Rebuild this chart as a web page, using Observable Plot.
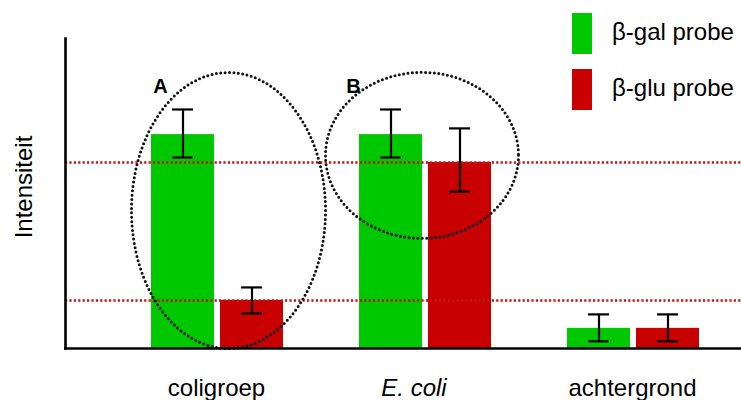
<!DOCTYPE html>
<html><head><meta charset="utf-8">
<script src="https://cdn.jsdelivr.net/npm/d3@7"></script>
<script src="https://cdn.jsdelivr.net/npm/@observablehq/plot@0.6"></script>
<style>
body{margin:0;background:#fff;}
#wrap{position:relative;width:741px;height:400px;font-family:"Liberation Sans",Arial,sans-serif;}
.sw{position:absolute;left:572px;width:20px;height:41px;}
.lt{position:absolute;left:612px;font-size:24px;line-height:24px;color:#000;white-space:nowrap;}
</style></head><body><div id="wrap"></div>
<script>
const categories = ["coligroep", "E. coli", "achtergrond"];
const probes = ["β-gal probe", "β-glu probe"];
const galValues = [69, 69, 6.5];
const gluValues = [15.5, 60, 6.5];
const galErrLow = [61.6, 61.6, 2.3];
const galErrHigh = [77.1, 77.1, 11.0];
const gluErrLow = [11.3, 50.6, 2.3];
const gluErrHigh = [19.7, 71.0, 11.0];
const refLines = [60, 15.5];
const colors = ["#00c800", "#c80000"];

const gal = categories.map((c, i) => ({category: c, probe: probes[0], value: galValues[i], lo: galErrLow[i], hi: galErrHigh[i]}));
const glu = categories.map((c, i) => ({category: c, probe: probes[1], value: gluValues[i], lo: gluErrLow[i], hi: gluErrHigh[i]}));

function ellipseSymbol(rx, ry) {
  const k = 0.5523;
  return {
    draw(ctx) {
      ctx.moveTo(rx, 0);
      ctx.bezierCurveTo(rx, ry * k, rx * k, ry, 0, ry);
      ctx.bezierCurveTo(-rx * k, ry, -rx, ry * k, -rx, 0);
      ctx.bezierCurveTo(-rx, -ry * k, -rx * k, -ry, 0, -ry);
      ctx.bezierCurveTo(rx * k, -ry, rx, -ry * k, rx, 0);
      ctx.closePath();
    }
  };
}

const ellipseStyle = {stroke: "#111", fill: "none", strokeWidth: 3, strokeDasharray: "0 4.4", strokeLinecap: "round"};
const errStyle = {stroke: "#000", strokeWidth: 2.2};

const chart = Plot.plot({
  width: 741,
  height: 400,
  marginLeft: 65,
  marginRight: 0,
  marginTop: 38,
  marginBottom: 52,
  style: {fontFamily: "'Liberation Sans', Arial, sans-serif", background: "#fff", overflow: "visible"},
  x: {domain: categories, paddingInner: 0.3669, paddingOuter: 0.3045, align: 0.669, axis: null, label: null},
  y: {domain: [0, 100], axis: null, label: null},
  color: {domain: probes, range: colors},
  marks: [
    Plot.barY(gal, {x: "category", y: "value", fill: "probe", insetRight: 69}),
    Plot.barY(glu, {x: "category", y: "value", fill: "probe", insetLeft: 69}),
    Plot.ruleY(refLines, {y: d => d, stroke: "#c41414", strokeWidth: 2.6, strokeDasharray: "2.2 2.2"}),
    Plot.ruleX(gal, {x: "category", y1: "lo", y2: "hi", dx: -34.5, ...errStyle}),
    Plot.ruleX(glu, {x: "category", y1: "lo", y2: "hi", dx: 34.5, ...errStyle}),
    Plot.tickY(gal, {x: "category", y: "lo", insetLeft: 21, insetRight: 90, ...errStyle}),
    Plot.tickY(gal, {x: "category", y: "hi", insetLeft: 21, insetRight: 90, ...errStyle}),
    Plot.tickY(glu, {x: "category", y: "lo", insetLeft: 90, insetRight: 21, ...errStyle}),
    Plot.tickY(glu, {x: "category", y: "hi", insetLeft: 90, insetRight: 21, ...errStyle}),
    Plot.dot([{category: "coligroep", cy: 44.5}], {x: "category", y: "cy", dx: 11, symbol: ellipseSymbol(97, 138), ...ellipseStyle}),
    Plot.dot([{category: "E. coli", cy: 62.3}], {x: "category", y: "cy", dx: -3.5, symbol: ellipseSymbol(96.5, 83), ...ellipseStyle}),
    Plot.text([{category: "coligroep", t: "A"}], {x: "category", text: "t", frameAnchor: "top", lineAnchor: "middle", dy: 48, dx: -57, fontSize: 20, fontWeight: "bold", fill: "#000"}),
    Plot.text([{category: "E. coli", t: "B"}], {x: "category", text: "t", frameAnchor: "top", lineAnchor: "middle", dy: 48, dx: -72, fontSize: 20, fontWeight: "bold", fill: "#000"}),
    Plot.text(categories.filter(c => c !== "E. coli"), {x: d => d, text: d => d, frameAnchor: "bottom", lineAnchor: "middle", dy: 40, dx: -1, fontSize: 24, fill: "#000"}),
    Plot.text(categories.filter(c => c === "E. coli"), {x: d => d, text: d => d, frameAnchor: "bottom", lineAnchor: "middle", dy: 40, dx: -11.5, fontSize: 24, fontStyle: "italic", fill: "#000"}),
    Plot.frame({anchor: "left", stroke: "#000", strokeWidth: 2.6}),
    Plot.frame({anchor: "bottom", stroke: "#000", strokeWidth: 2.6}),
    Plot.text(["Intensiteit"], {text: d => d, frameAnchor: "left", textAnchor: "middle", rotate: -90, dx: -40.7, dy: -6.5, fontSize: 24, fill: "#000"})
  ]
});

const wrap = document.getElementById("wrap");
wrap.appendChild(chart);
probes.forEach((p, i) => {
  const sw = document.createElement("div");
  sw.className = "sw";
  sw.style.top = (13 + i * 56) + "px";
  sw.style.background = colors[i];
  wrap.appendChild(sw);
  const lt = document.createElement("div");
  lt.className = "lt";
  lt.style.top = (20 + i * 56) + "px";
  lt.textContent = p;
  wrap.appendChild(lt);
});
</script>
</body></html>
